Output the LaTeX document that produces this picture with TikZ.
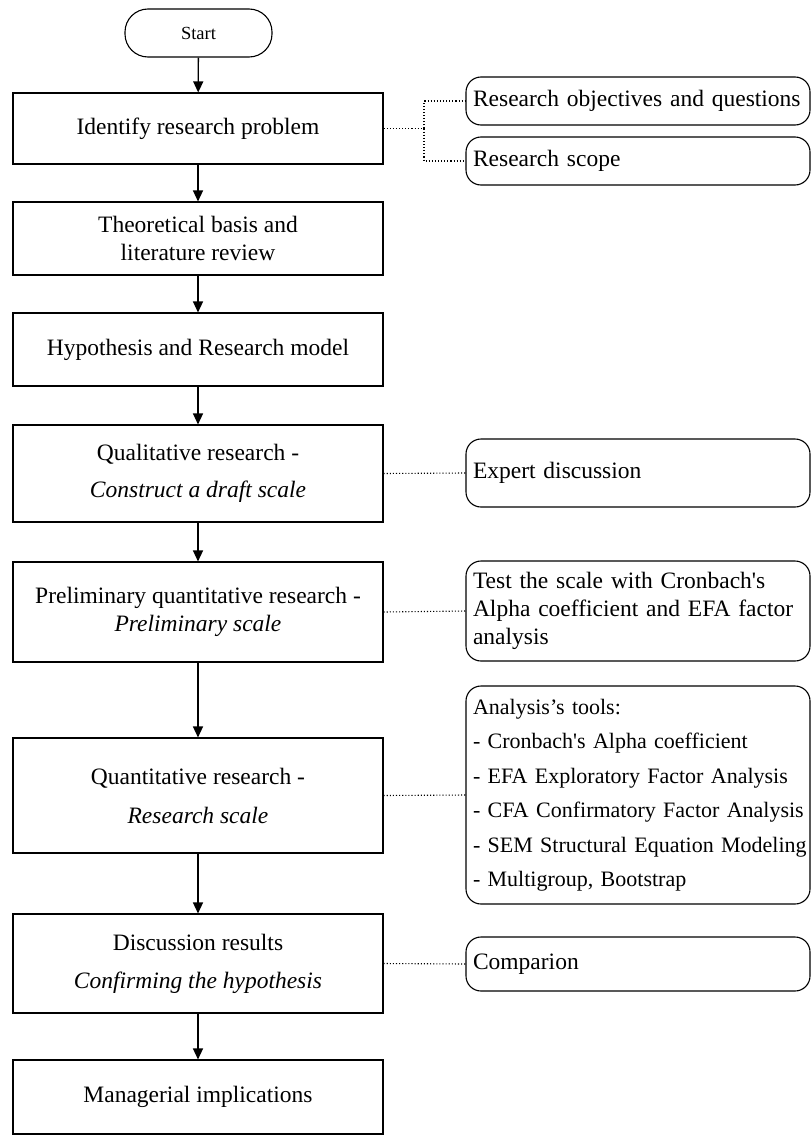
\documentclass[tikz,border=0pt]{standalone}
\usepackage{fontspec}
\setmainfont{Liberation Serif}
\usetikzlibrary{arrows.meta}

\newcommand{\apos}{\textquotesingle}

\tikzset{
  stepbox/.style={draw, line width=1.1pt, minimum width=370pt, inner sep=0pt,
    align=center, font=\fontsize{23.5}{28}\selectfont},
  sidebox/.style={draw, line width=1.1pt, rounded corners=15pt, minimum width=344pt,
    text width=330pt, inner xsep=7pt, inner ysep=0pt, align=left,
    font=\fontsize{23.5}{28}\selectfont},
  startbox/.style={draw, line width=1.1pt, rounded corners=23pt, minimum width=147pt,
    minimum height=48pt, inner sep=0pt, font=\fontsize{18.5}{22}\selectfont},
  flow/.style={line width=1.3pt, -{Triangle[length=11pt,width=10pt]}},
  link/.style={line width=1.1pt, dotted}
}

\begin{document}
\begin{tikzpicture}[x=1pt, y=-1pt]
  \useasboundingbox (0,0) rectangle (811,1135);

  % main sequence of steps
  \node[startbox] (start) at (198.5,33) {Start};
  \node[stepbox, minimum height=71pt] (ident) at (198,128.5) {Identify research problem};
  \node[stepbox, minimum height=73pt] (theory) at (198,238.5) {Theoretical basis and\\literature review};
  \node[stepbox, minimum height=73pt] (hyp) at (198,349.5) {Hypothesis and Research model};
  \node[stepbox, minimum height=97pt] (qual) at (198,473.5) {Qualitative research -\\[9pt]\textit{Construct a draft scale}};
  \node[stepbox, minimum height=100pt] (prelim) at (198,612) {Preliminary quantitative research -\\\textit{Preliminary scale}};
  \node[stepbox, minimum height=115pt] (quant) at (198,795.5) {Quantitative research -\\[11pt]\textit{Research scale}};
  \node[stepbox, minimum height=99pt] (disc) at (198,963.5) {Discussion results\\[10pt]\textit{Confirming the hypothesis}};
  \node[stepbox, minimum height=74pt] (manag) at (198,1097) {Managerial implications};

  % side notes
  \node[sidebox, minimum height=48pt] (obj) at (638,101) {\mbox{Research objectives and questions}};
  \node[sidebox, minimum height=48pt] (scope) at (638,161) {Research scope};
  \node[sidebox, minimum height=68pt] (expert) at (638,473) {Expert discussion};
  \node[sidebox, minimum height=100pt] (test) at (638,611)
    {\mbox{Test the scale with Cronbach\apos s}\\\mbox{Alpha coefficient and EFA factor}\\analysis};
  \node[sidebox, minimum height=218pt, font=\fontsize{22}{34.5}\selectfont] (tools) at (638,795)
    {\mbox{Analysis’s tools:}\\
     \mbox{- Cronbach\apos s Alpha coefficient}\\
     \mbox{- EFA Exploratory Factor Analysis}\\
     \mbox{- CFA Confirmatory Factor Analysis}\\
     \mbox{- SEM Structural Equation Modeling}\\
     \mbox{- Multigroup, Bootstrap}};
  \node[sidebox, minimum height=54pt] (comp) at (638,964) {Comparion};

  % flow arrows
  \draw[flow] (start) -- (ident);
  \draw[flow] (ident) -- (theory);
  \draw[flow] (theory) -- (hyp);
  \draw[flow] (hyp) -- (qual);
  \draw[flow] (qual) -- (prelim);
  \draw[flow] (prelim) -- (quant);
  \draw[flow] (quant) -- (disc);
  \draw[flow] (disc) -- (manag);

  % dotted links to the notes
  \coordinate (fork) at (424,128.5);
  \draw[link] (ident.east) -- (fork);
  \draw[link] (fork) |- (obj.west);
  \draw[link] (fork) |- (scope.west);
  \draw[link] (qual.east) -- (expert.west);
  \draw[link] (prelim.east) -- (test.west);
  \draw[link] (quant.east) -- (tools.west);
  \draw[link] (disc.east) -- (comp.west);
\end{tikzpicture}
\end{document}
